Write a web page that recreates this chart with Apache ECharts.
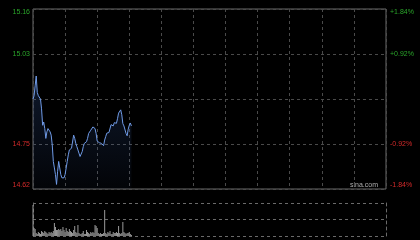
<!DOCTYPE html>
<html>
<head>
<meta charset="utf-8">
<style>
html,body{margin:0;padding:0;background:#000;}
#c{width:420px;height:240px;}
</style>
<script src="https://cdn.jsdelivr.net/npm/echarts@6/dist/echarts.min.js"></script>
</head>
<body>
<div id="c"></div>
<script>
// ---- data ----
const prevClose = 14.89;
const pctRange = 1.84;
const leftLabels = ['14.62', '14.75', '', '15.03', '15.16'];
const rightLabels = ['-1.84%', '-0.92%', '', '+0.92%', '+1.84%'];
const labelColors = ['#d42a2a', '#d42a2a', '#000', '#2aa52a', '#2aa52a'];

const prices = [
  14.89, 14.90, 14.93, 14.96, 14.91, 14.90, 14.90, 14.89, 14.86, 14.81,
  14.82, 14.80, 14.77, 14.79, 14.80, 14.80, 14.79, 14.78, 14.75, 14.70,
  14.68, 14.66, 14.63, 14.67, 14.70, 14.68, 14.66, 14.65, 14.645, 14.65,
  14.66, 14.68, 14.70, 14.72, 14.735, 14.74, 14.74, 14.745, 14.78, 14.77,
  14.755, 14.745, 14.735, 14.725, 14.715, 14.71, 14.73, 14.745, 14.755, 14.758,
  14.76, 14.77, 14.785, 14.79, 14.795, 14.80, 14.805, 14.808, 14.80, 14.785,
  14.762, 14.76, 14.757, 14.756, 14.755, 14.752, 14.748, 14.765, 14.776, 14.786,
  14.788, 14.788, 14.79, 14.812, 14.81, 14.808, 14.818, 14.817, 14.816, 14.83,
  14.847, 14.853, 14.857, 14.842, 14.815, 14.808, 14.804, 14.785, 14.778, 14.798,
  14.81, 14.817, 14.808
];

const volumes = [
  31, 8, 7, 3, 2, 4, 3, 2, 5, 4,
  3, 5, 4, 3, 2, 4, 3, 4, 3, 5,
  13, 9, 6, 6, 7, 6, 7, 5, 9, 6,
  4, 8, 5, 4, 7, 5, 4, 3, 6, 10,
  4, 3, 11, 3, 2, 2, 3, 5, 2, 2,
  6, 4, 3, 2, 4, 3, 4, 3, 11, 10,
  8, 3, 2, 3, 2, 2, 3, 26, 3, 2,
  4, 3, 5, 2, 2, 4, 3, 3, 4, 3,
  10, 3, 2, 3, 14, 4, 3, 2, 3, 3,
  4, 2, 1
];
const volMax = 33;

// trading minutes 09:30-12:00, 13:00-16:00 (HK session)
const times = [];
for (let i = 0; i <= 330; i++) {
  const m = i <= 150 ? 570 + i : 780 + (i - 150);
  const hh = Math.floor(m / 60), mm = m % 60;
  times.push((hh < 10 ? '0' : '') + hh + ':' + (mm < 10 ? '0' : '') + mm);
}

const pctData = prices.map(p => (p / prevClose - 1) * 100);

const font = 'Liberation Sans, Arial, sans-serif';
const chart = echarts.init(document.getElementById('c'));
chart.setOption({
  backgroundColor: '#000',
  animation: false,
  grid: [
    {left: 33, right: 34, top: 9, height: 180, show: true, borderColor: '#6a6a6a', borderWidth: 1, backgroundColor: 'transparent'},
    {left: 33, right: 34, top: 203, height: 33, show: false}
  ],
  xAxis: [
    {
      type: 'category', gridIndex: 0, data: times, boundaryGap: false,
      axisLine: {show: false}, axisTick: {show: false}, axisLabel: {show: false},
      splitLine: {show: true, interval: function (i) { return i % 30 === 0; },
        lineStyle: {color: '#4a4a4a', type: [3, 3], width: 1}}
    },
    {
      type: 'category', gridIndex: 1, data: times, boundaryGap: false,
      axisLine: {show: false}, axisTick: {show: false}, axisLabel: {show: false},
      splitLine: {show: false}
    }
  ],
  yAxis: [
    {
      type: 'value', gridIndex: 0, position: 'left',
      min: -pctRange, max: pctRange, interval: pctRange / 2,
      axisLine: {show: false}, axisTick: {show: false},
      splitLine: {show: true, lineStyle: {color: '#4a4a4a', type: [3, 3], width: 1}},
      axisLabel: {
        margin: 3, fontSize: 7, fontFamily: font,
        formatter: function (v, i) { return leftLabels[i]; },
        color: function (v, i) { return v > 0.01 ? '#2aa52a' : (v < -0.01 ? '#d42a2a' : '#000'); },
        verticalAlignMaxLabel: 'top', verticalAlignMinLabel: 'bottom'
      }
    },
    {
      type: 'value', gridIndex: 0, position: 'right',
      min: -pctRange, max: pctRange, interval: pctRange / 2,
      axisLine: {show: false}, axisTick: {show: false}, splitLine: {show: false},
      axisLabel: {
        margin: 4, fontSize: 7, fontFamily: font,
        formatter: function (v, i) { return rightLabels[i]; },
        color: function (v, i) { return v > 0.01 ? '#2aa52a' : (v < -0.01 ? '#d42a2a' : '#000'); },
        verticalAlignMaxLabel: 'top', verticalAlignMinLabel: 'bottom'
      }
    },
    {
      type: 'value', gridIndex: 1, position: 'left',
      min: 0, max: volMax, interval: volMax / 2,
      axisLine: {show: true, lineStyle: {color: '#6a6a6a', type: [3, 3]}},
      axisTick: {show: false}, axisLabel: {show: false},
      splitLine: {show: true, lineStyle: {color: '#6a6a6a', type: [3, 3], width: 1}}
    },
    {
      type: 'value', gridIndex: 1, position: 'right',
      min: 0, max: volMax, interval: volMax / 2,
      axisLine: {show: true, lineStyle: {color: '#6a6a6a', type: [3, 3]}},
      axisTick: {show: false}, axisLabel: {show: false}, splitLine: {show: false}
    }
  ],
  series: [
    {
      type: 'line', xAxisIndex: 0, yAxisIndex: 0, data: pctData,
      symbol: 'none', smooth: false,
      lineStyle: {color: '#6f9ae6', width: 1},
      areaStyle: {
        origin: 'start',
        color: new echarts.graphic.LinearGradient(0, 0, 0, 1, [
          {offset: 0, color: 'rgba(60,100,180,0.35)'},
          {offset: 1, color: 'rgba(60,100,180,0.06)'}
        ])
      }
    },
    {
      type: 'bar', xAxisIndex: 1, yAxisIndex: 2, data: volumes,
      barWidth: 1, itemStyle: {color: '#9a9a9a'}
    }
  ],
  graphic: [
    {type: 'text', right: 42, top: 182,
     style: {text: 'sina.com', fill: '#b0b0b0', font: '7px ' + font}}
  ]
});
</script>
</body>
</html>
